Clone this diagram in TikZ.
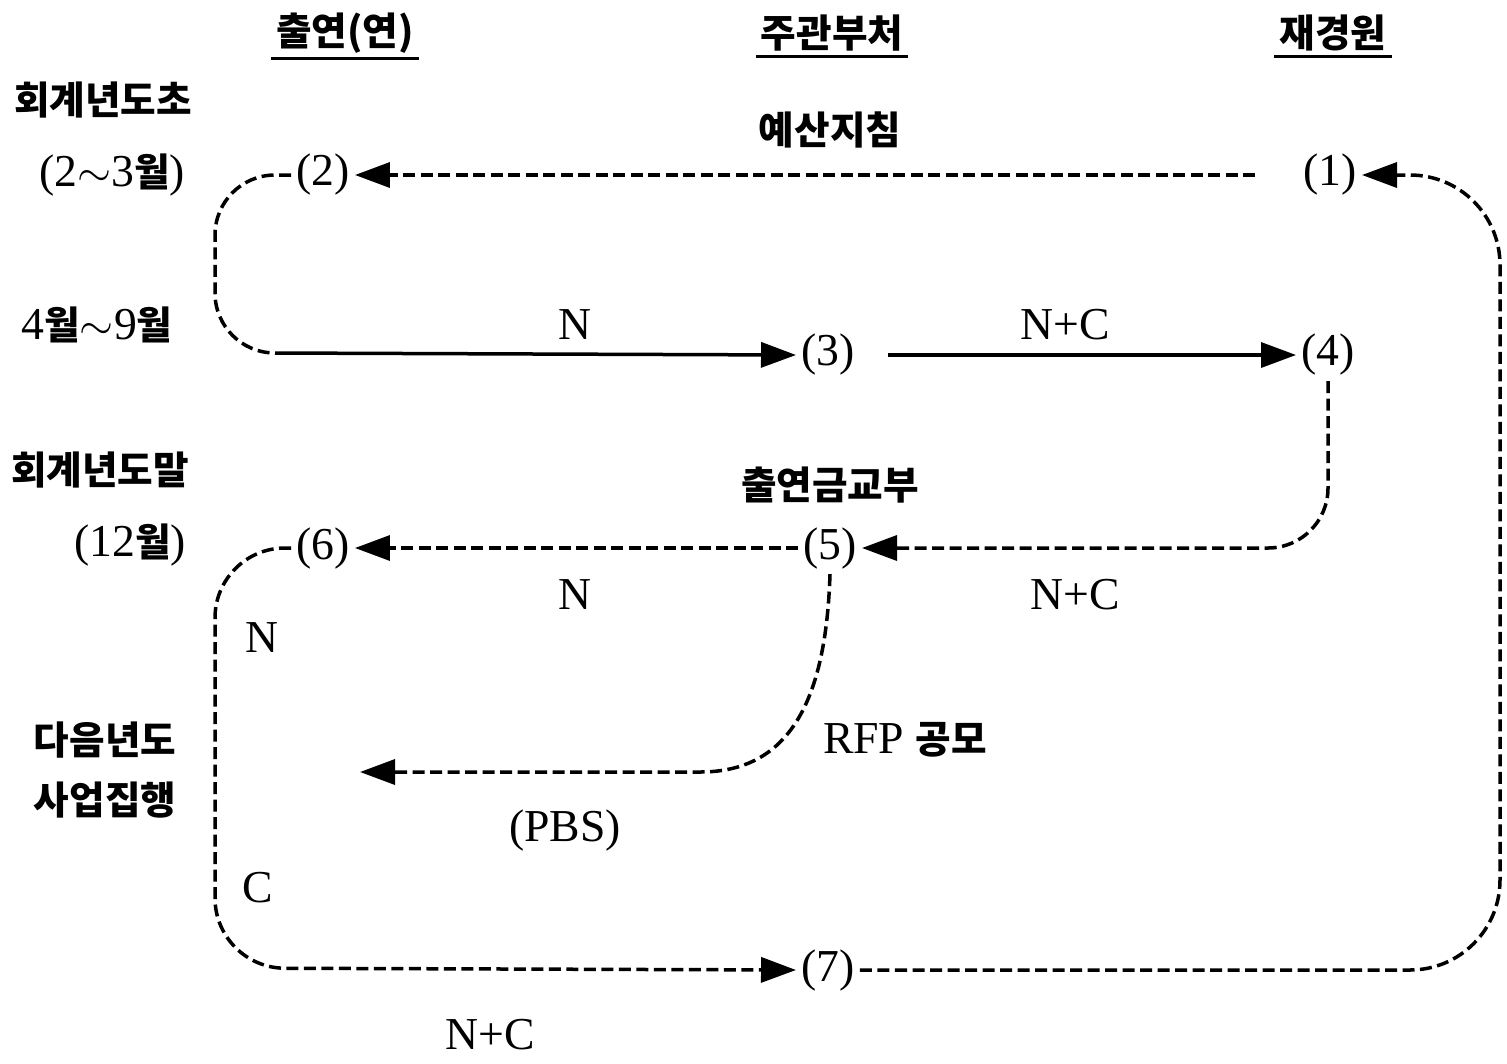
\documentclass[tikz,border=0pt]{standalone}
\usepackage{fontspec}
\setmainfont{Liberation Serif}
\newfontfamily\kr{Noto Sans CJK KR}
\usetikzlibrary{arrows.meta}
\newcommand{\ko}[1]{{\kr\bfseries\fontsize{22}{26}\selectfont #1}}

\tikzset{
    num/.style={inner sep=1mm},
    dsh/.style={line width=0.7mm,dash pattern=on 2.4mm off 1.1mm},
    sld/.style={line width=0.7mm},
    tip/.style={-{Triangle[length=7mm,width=5mm]}}
}

\begin{document}
\begin{tikzpicture}[x=0.2mm,y=-0.2mm,font=\fontsize{26}{30}\selectfont]
    \useasboundingbox(0,0)rectangle(1507,1063);

    % column heads
    \node[inner sep=1mm](hYeon)at(345,33){\ko{출연(연)}};
    \node[inner sep=1mm](hBu)at(832,33){\ko{주관부처}};
    \node[inner sep=1mm](hJae)at(1333,33){\ko{재경원}};
    \foreach \h in {hYeon,hBu,hJae}
        \draw[line width=0.7mm](\h.south west)--(\h.south east);

    % time of year
    \node(tA)at(103,100){\ko{회계년도초}};
    \node(tB)at(112,175){(2$\sim$3\ko{월})};
    \node(tC)at(97,325){4\ko{월}$\sim$9\ko{월}};
    \node(tD)at(100,470){\ko{회계년도말}};
    \node(tE)at(130,545){(12\ko{월})};
    \node(tF)at(105,740){\ko{다음년도}};
    \node(tG)at(105,800){\ko{사업집행}};

    % steps
    \node[num](p1)at(1330,175){(1)};
    \node[num](p2)at(323,175){(2)};
    \node[num](p3)at(828,355){(3)};
    \node[num](p4)at(1328,355){(4)};
    \node[num](p5)at(830,548){(5)};
    \node[num](p6)at(323,548){(6)};
    \node[num](p7)at(828,970){(7)};
    \coordinate(rfp)at(360,772);

    % arrows
    \draw[dsh,tip,shorten <=8.6mm](p1.west)--(p2.east);
    \draw[dsh,rounded corners=12mm](p2.west)-|(215,353)--(275,353)coordinate(c23);
    \draw[sld,tip](c23)--(p3.west);
    \draw[sld,tip,shorten <=5.6mm](p3.east)--(p4.west);
    \draw[dsh,tip,rounded corners=12mm](p4.south)|-(p5.east);
    \draw[dsh,tip](p5.west)--(p6.east);
    \draw[dsh,tip](p5.south)..controls(826,700)and(790,772)..(700,772)--(rfp);
    \draw[dsh,tip,rounded corners=14mm](p6.west)-|(215,968)--(p7.west);
    \draw[dsh,tip,rounded corners=18mm](p7.east)-|(1500,175)--(p1.east);

    % labels
    \node(lA)at(830,130){\ko{예산지침}};
    \node(lB)at(575,325){N};
    \node(lC)at(1065,325){N+C};
    \node(lD)at(830,485){\ko{출연금교부}};
    \node(lE)at(575,595){N};
    \node(lF)at(1075,595){N+C};
    \node(lG)at(262,638){N};
    \node(lH)at(905,740){RFP \ko{공모}};
    \node(lI)at(565,830){(PBS)};
    \node(lJ)at(258,888){C};
    \node(lK)at(490,1035){N+C};
\end{tikzpicture}
\end{document}
